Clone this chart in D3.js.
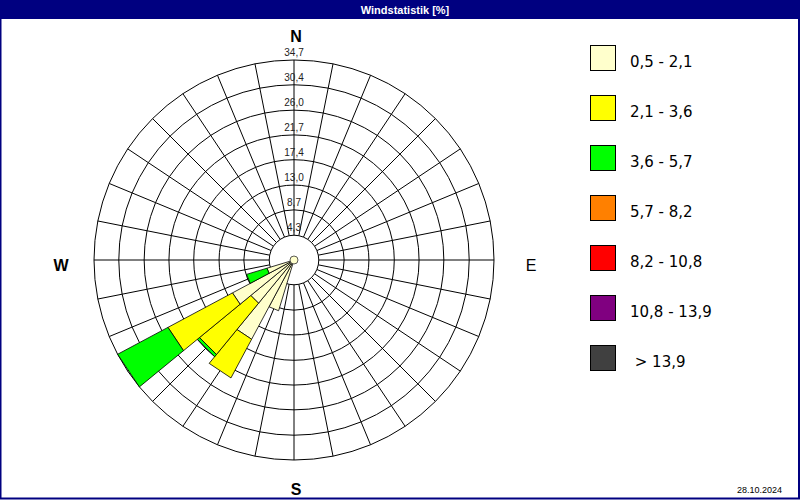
<!DOCTYPE html>
<html><head><meta charset="utf-8">
<script src="https://cdn.jsdelivr.net/npm/d3@7"></script>
<style>html,body{margin:0;padding:0;background:#fff}svg{display:block}</style>
</head><body>
<svg id="c" width="800" height="500"></svg>
<script>
// ---- data ----
const title = "Windstatistik [%]";
const dateLabel = "28.10.2024";
const directions = [202.5, 213.75, 225, 236.25, 247.5]; // compass degrees (32-point sectors)
const speedClasses = ["0,5 - 2,1", "2,1 - 3,6", "3,6 - 5,7", "5,7 - 8,2", "8,2 - 10,8", "10,8 - 13,9", " > 13,9"];
const classColors = ["#FFFFCC", "#FFFF00", "#00FF00", "#FF8000", "#FF0000", "#800080", "#404040"];
const s1 = [9.2, 15.6, 9.7, 12.1, 4.9];   // 0,5 - 2,1
const s2 = [0, 7.6, 11.5, 12.7, 0];      // 2,1 - 3,6
const s3 = [0, 0, 0.5, 9.9, 3.7];        // 3,6 - 5,7
const s4 = [0, 0, 0, 0, 0];
const s5 = [0, 0, 0, 0, 0];
const s6 = [0, 0, 0, 0, 0];
const s7 = [0, 0, 0, 0, 0];
const ringTicks = [4.3, 8.7, 13.0, 17.4, 21.7, 26.0, 30.4, 34.7];
const compassLabels = ["N", "E", "S", "W"];
const sectorCount = 32;

// ---- drawing ----
const svg = d3.select("#c");
const W = 800, H = 500, cx = 294, cy = 260;
const r = d3.scaleLinear().domain([0, 34.7]).range([0, 200]);
const sectorW = 360 / sectorCount;
const pt = (deg, rad) => { const a = deg * Math.PI / 180; return [cx + rad * Math.sin(a), cy - rad * Math.cos(a)]; };

svg.append("rect").attr("x", 0).attr("y", 0).attr("width", W).attr("height", H).attr("fill", "#fff");
svg.append("rect").attr("x", 0.5).attr("y", 0.5).attr("width", W - 1.5).attr("height", H - 2).attr("fill", "none").attr("stroke", "#000080").attr("stroke-width", 2);
svg.append("rect").attr("x", 0).attr("y", 0).attr("width", W).attr("height", 19).attr("fill", "#000080");
svg.append("text").attr("x", 405).attr("y", 14).attr("text-anchor", "middle")
  .attr("font-family", "Liberation Sans, Arial, sans-serif").attr("font-weight", "bold").attr("font-size", 11)
  .attr("fill", "#fff").text(title);

const g = svg.append("g");
// rings
g.selectAll("circle.ring").data(ringTicks).join("circle").attr("class", "ring")
  .attr("cx", cx).attr("cy", cy).attr("r", d => r(d))
  .attr("fill", (d, i) => i === 0 ? "#fff" : "none").attr("stroke", "#000").attr("stroke-width", 1);
// spokes
const spokes = d3.range(sectorCount).map(i => i * sectorW);
g.selectAll("line.spoke").data(spokes).join("line").attr("class", "spoke")
  .attr("x1", d => pt(d, r(ringTicks[0]))[0]).attr("y1", d => pt(d, r(ringTicks[0]))[1])
  .attr("x2", d => pt(d, r(34.7))[0]).attr("y2", d => pt(d, r(34.7))[1])
  .attr("stroke", "#000").attr("stroke-width", 1);

// wedges (stacked)
const series = [s1, s2, s3, s4, s5, s6, s7];
const segs = [];
directions.forEach((dir, j) => {
  let acc = 0;
  series.forEach((s, k) => {
    const v = s[j];
    if (v > 0) { segs.push({dir, k, a: acc, b: acc + v}); acc += v; }
  });
});
g.selectAll("path.wedge").data(segs).join("path").attr("class", "wedge")
  .attr("d", d => {
    const a0 = d.dir - sectorW / 2, a1 = d.dir + sectorW / 2;
    const q = [pt(a0, r(d.b)), pt(a1, r(d.b))];
    const pts = d.a === 0 ? [[cx, cy], q[0], q[1]] : [pt(a0, r(d.a)), q[0], q[1], pt(a1, r(d.a))];
    return "M" + pts.map(p => p.join(",")).join("L") + "Z";
  })
  .attr("fill", d => classColors[d.k]).attr("stroke", "#000").attr("stroke-width", 0.8).attr("stroke-linejoin", "round");
// center dot
g.append("circle").attr("cx", cx).attr("cy", cy).attr("r", 4).attr("fill", classColors[0]).attr("stroke", "#333").attr("stroke-width", 0.8);

// ring labels
g.selectAll("text.tick").data(ringTicks).join("text").attr("class", "tick")
  .attr("x", cx).attr("y", d => cy - r(d) - 4).attr("text-anchor", "middle")
  .attr("font-family", "Liberation Sans, Arial, sans-serif").attr("font-size", 10).attr("fill", "#222")
  .text(d => d.toFixed(1).replace(".", ","));

// compass labels
const cpos = {N: [296, 42], E: [531, 271], S: [296, 495], W: [61, 271]};
svg.selectAll("text.compass").data(compassLabels).join("text").attr("class", "compass")
  .attr("x", d => cpos[d][0]).attr("y", d => cpos[d][1]).attr("text-anchor", "middle")
  .attr("font-family", "Liberation Sans, Arial, sans-serif").attr("font-size", 16)
  .attr("font-weight", d => d === "E" ? "normal" : "bold").attr("fill", "#000").text(d => d);

// legend
const lg = svg.append("g");
const items = lg.selectAll("g").data(speedClasses).join("g").attr("transform", (d, i) => `translate(590.5,${45.5 + i * 50})`);
items.append("rect").attr("width", 25).attr("height", 25).attr("fill", (d, i) => classColors[i]).attr("stroke", "#000").attr("stroke-width", 1);
items.append("text").attr("x", 39.5).attr("y", 21).attr("xml:space", "preserve").style("white-space", "pre")
  .attr("font-family", "DejaVu Sans, Verdana, sans-serif").attr("font-size", 15).attr("fill", "#000").text(d => d);

svg.append("text").attr("x", 782).attr("y", 493).attr("text-anchor", "end")
  .attr("font-family", "Liberation Sans, Arial, sans-serif").attr("font-size", 9).attr("fill", "#000").text(dateLabel);
</script>
</body></html>
